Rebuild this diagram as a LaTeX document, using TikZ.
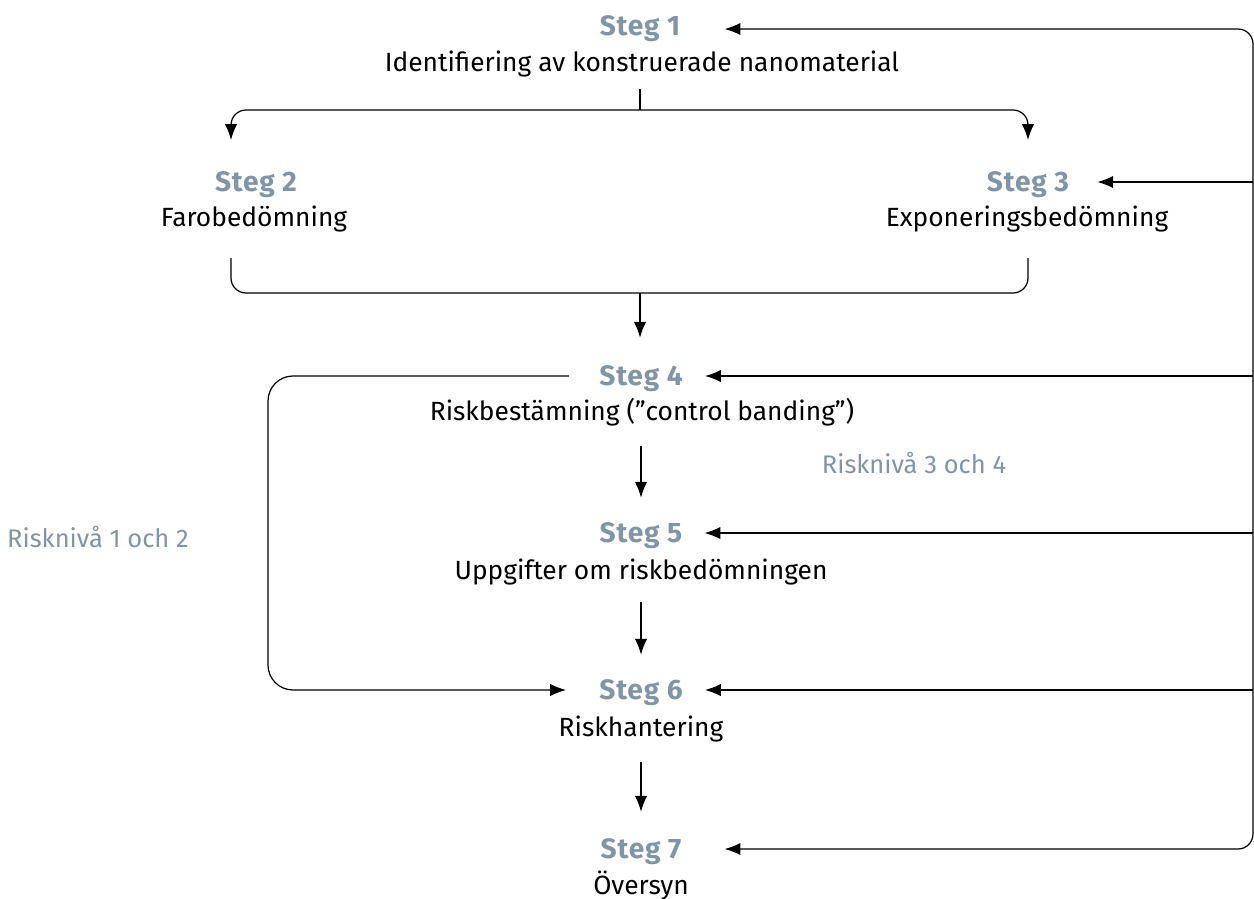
\documentclass[tikz,border=0pt]{standalone}
\usepackage{fontspec}
\setmainfont{Fira Sans}
\usetikzlibrary{arrows.meta}
\usetikzlibrary{positioning}
\definecolor{steggray}{RGB}{128,149,168}
\tikzset{
  stegnode/.style={font=\fontsize{16}{19}\selectfont\bfseries\addfontfeatures{LetterSpace=3},text=steggray,inner sep=0pt,anchor=base},
  stegtext/.style={font=\fontsize{15}{18}\selectfont,text=black,inner sep=0pt,anchor=base},
  nivatext/.style={font=\fontsize{14.5}{17}\selectfont,text=steggray,inner sep=0pt,anchor=base},
  flow/.style={draw=black,line width=0.7pt,-{Latex[length=9pt,width=7pt]}},
  plain/.style={draw=black,line width=0.7pt},
}

\begin{document}
\begin{tikzpicture}[x=0.02cm,y=-0.02cm]
\useasboundingbox (0,0) rectangle (1254,899);

\node[stegnode] (s1) at (640,35) {Steg 1};
\node[stegtext] (t1) at (642,71) {Identifiering av konstruerade nanomaterial};
\node[stegnode] (s2) at (256,191) {Steg 2};
\node[stegtext] (t2) at (254,226) {Farobedömning};
\node[stegnode] (s3) at (1028,191) {Steg 3};
\node[stegtext] (t3) at (1027,226) {Exponeringsbedömning};
\node[stegnode] (s4) at (641,385) {Steg 4};
\node[stegtext] (t4) at (642,420) {Riskbestämning (”control banding”)};
\node[stegnode] (s5) at (641,542) {Steg 5};
\node[stegtext] (t5) at (641,579) {Uppgifter om riskbedömningen};
\node[stegnode] (s6) at (641,699) {Steg 6};
\node[stegtext] (t6) at (641,736) {Riskhantering};
\node[stegnode] (s7) at (641,858) {Steg 7};
\node[stegtext] (t7) at (641,894) {Översyn};
\node[nivatext] (n34) at (914,473) {Risknivå 3 och 4};
\node[nivatext] (n12) at (98,547) {Risknivå 1 och 2};

% right rail
\coordinate (rtop) at (1253,29);
\coordinate (r3) at (1253,182);
\coordinate (r4) at (1253,376);
\coordinate (r5) at (1253,533);
\coordinate (r6) at (1253,690);
\coordinate (rbot) at (1253,849);
\draw[flow,rounded corners=0.3cm,shorten >=0.88cm] (r3) -- (rtop) -- (rtop -| s1.east);
\draw[flow,rounded corners=0.3cm,shorten >=0.86cm] (r3) -- (rbot) -- (rbot -| s7.east);
\draw[flow,shorten >=0.56cm] (r3) -- (r3 -| s3.east);
\draw[flow,shorten >=0.44cm] (r4) -- (r4 -| s4.east);
\draw[flow,shorten >=0.44cm] (r5) -- (r5 -| s5.east);
\draw[flow,shorten >=0.44cm] (r6) -- (r6 -| s6.east);

% split to steg 2 and 3
\coordinate (b1) at (640,110);
\coordinate (b2) at (231,140);
\coordinate (b3) at (1028,140);
\draw[plain,shorten <=0.24cm] (t1.south -| b1) -- (b1);
\draw[flow,rounded corners=0.3cm] (b1) -| (b2);
\draw[flow,rounded corners=0.3cm] (b1) -| (b3);

% join to steg 4
\coordinate (c2) at (231,258);
\coordinate (c3) at (1028,258);
\coordinate (c4) at (640,293);
\draw[plain,rounded corners=0.3cm] (c2) |- (c4) -| (c3);
\draw[flow,shorten >=0.54cm] (c4) -- (s4.north -| c4);

\draw[flow,shorten <=0.4cm,shorten >=0.48cm] (t4.south -| s5.north) -- (s5.north);
\draw[flow,shorten <=0.34cm,shorten >=0.48cm] (t5.south -| s6.north) -- (s6.north);
\draw[flow,shorten <=0.4cm,shorten >=0.52cm] (t6.south -| s7.north) -- (s7.north);

% risk levels 1 and 2
\coordinate (lk) at (268,376);
\draw[flow,rounded corners=0.5cm,shorten <=0.6cm,shorten >=0.66cm] (s4.west |- r4) -- (lk) |- (s6.west |- r6);

\end{tikzpicture}
\end{document}
